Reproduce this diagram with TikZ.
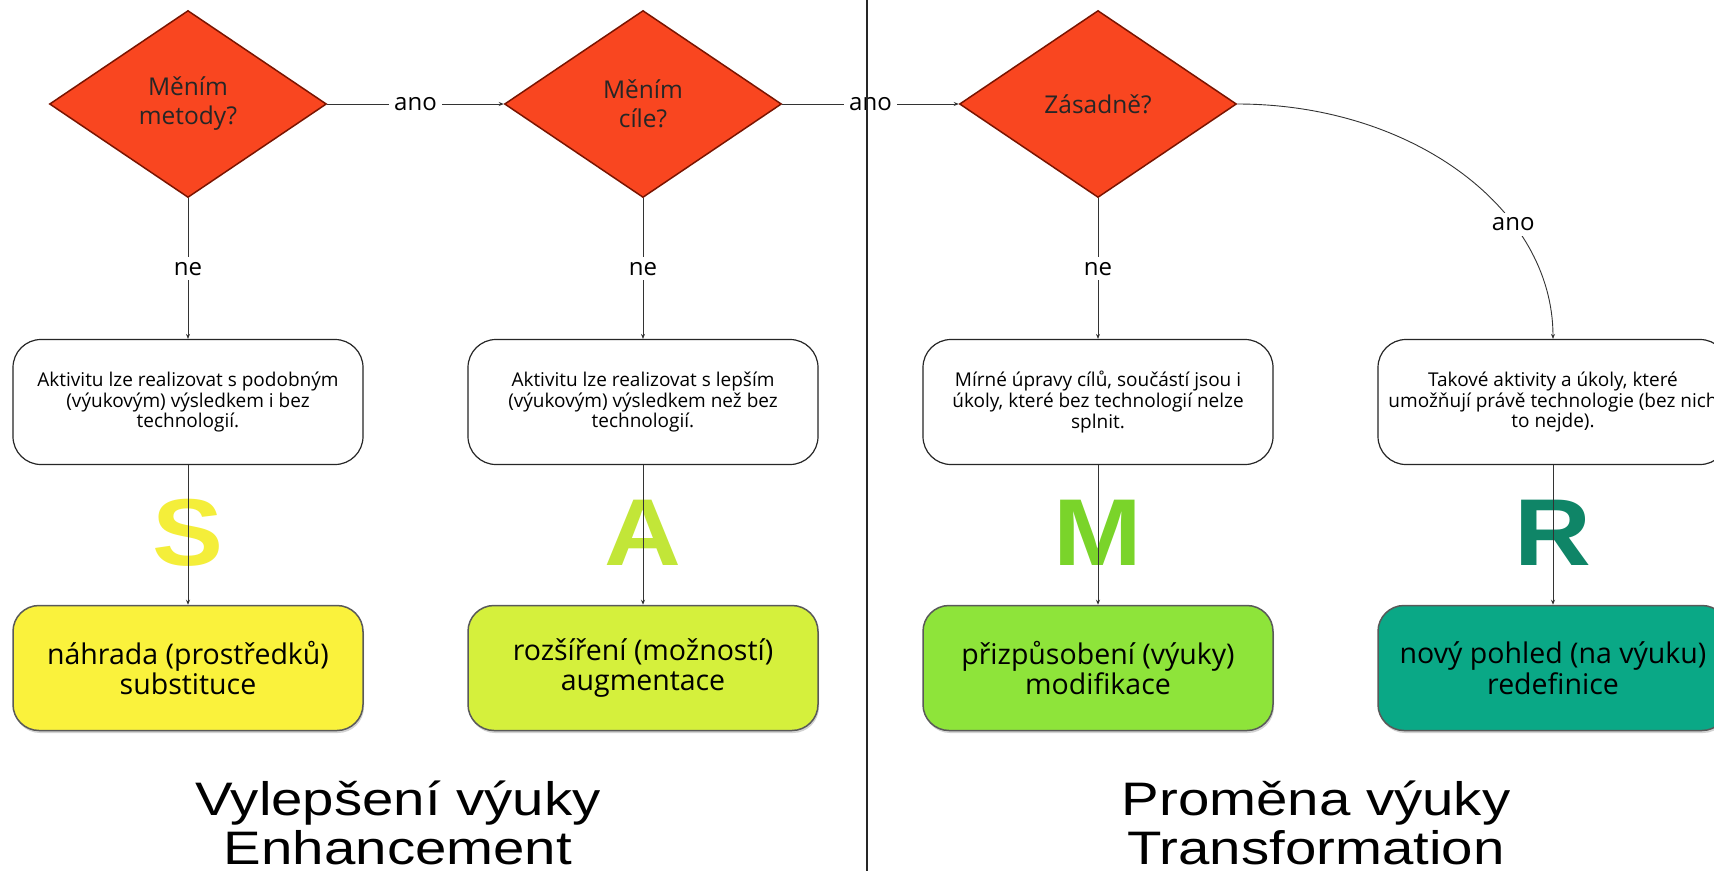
\documentclass[tikz,border=0pt]{standalone}
\usepackage{fontspec}
\setmainfont{Open Sans}
\newfontfamily\titlefont{Liberation Sans}
\usetikzlibrary{shapes.geometric,arrows.meta,shadows}
\definecolor{dred}{HTML}{F94620}
\definecolor{dredline}{HTML}{7A1400}
\definecolor{cS}{HTML}{FAF23C}
\definecolor{cA}{HTML}{D5F03C}
\definecolor{cM}{HTML}{8EE43A}
\definecolor{cR}{HTML}{0AA886}
\definecolor{lS}{HTML}{F4EE3A}
\definecolor{lA}{HTML}{C2E638}
\definecolor{lM}{HTML}{7AD42A}
\definecolor{lR}{HTML}{0F8567}
\begin{document}
\begin{tikzpicture}[x=1pt,y=-1pt,
 decision/.style={diamond, fill=dred, draw=dredline, line width=1.5pt, minimum width=277pt, minimum height=187pt, inner sep=0pt, align=center, font=\fontsize{24.5}{29}\selectfont, text=black!85},
 infobox/.style={rectangle, rounded corners=28pt, draw=black!85, line width=1.2pt, fill=white, minimum width=350pt, minimum height=125pt, align=center, font=\fontsize{19}{20.8}\selectfont},
 levelbox/.style={rectangle, rounded corners=26pt, draw=black!65, line width=1.5pt, minimum width=350pt, minimum height=125pt, align=center, font=\fontsize{28.5}{30.5}\selectfont, drop shadow={shadow xshift=1pt, shadow yshift=-2.5pt, opacity=0.35}},
 conn/.style={draw=black!80, line width=0.9pt, -{Stealth[length=5pt,width=4pt]}},
 lbl/.style={fill=white, inner sep=5pt, font=\fontsize{24}{28}\selectfont},
 bigletter/.style={inner sep=0pt, font=\titlefont\bfseries\fontsize{95}{95}\selectfont},
 bigtitle/.style={inner sep=0pt, anchor=base, font=\titlefont\fontsize{47}{47}\selectfont}
]
\clip (0,0) rectangle (1714,871);
\fill[white] (0,0) rectangle (1714,871);

% decisions
\node[decision] (D1) at (188,104) {Měním\\metody?};
\node[decision] (D2) at (643,104) {Měním\\cíle?};
\node[decision] (D3) at (1098,104) {Zásadně?};

% info boxes
\node[infobox] (W1) at (188,402) {Aktivitu lze realizovat s podobným\\(výukovým) výsledkem i bez\\technologií.};
\node[infobox] (W2) at (643,402) {Aktivitu lze realizovat s lepším\\(výukovým) výsledkem než bez\\technologií.};
\node[infobox] (W3) at (1098,402) {Mírné úpravy cílů, součástí jsou i\\úkoly, které bez technologií nelze\\splnit.};
\node[infobox] (W4) at (1553,402) {Takové aktivity a úkoly, které\\umožňují právě technologie (bez nich\\to nejde).};

% level boxes
\node[levelbox, fill=cS] (C1) at (188,668) {náhrada (prostředků)\\substituce};
\node[levelbox, fill=cA] (C2) at (643,668) {rozšíření (možností)\\augmentace};
\node[levelbox, fill=cM] (C3) at (1098,668) {přizpůsobení (výuky)\\modifikace};
\node[levelbox, fill=cR] (C4) at (1553,668) {nový pohled (na výuku)\\redefinice};

% letters
\node[bigletter, text=lS] (LS) at (188,533) {\scalebox{1.12}[1]{S}};
\node[bigletter, text=lA] (LA) at (643,533) {\scalebox{1.12}[1]{A}};
\node[bigletter, text=lM] (LM) at (1098,533) {\scalebox{1.12}[1]{M}};
\node[bigletter, text=lR] (LR) at (1553,533) {\scalebox{1.12}[1]{R}};

% connectors
\draw[conn] (D1.east) -- node[lbl]{ano} (D2.west);
\draw[conn] (D2.east) -- node[lbl]{ano} (D3.west);
\draw[conn] (D1.south) -- node[lbl]{ne} (W1.north);
\draw[conn] (D2.south) -- node[lbl]{ne} (W2.north);
\draw[conn] (D3.south) -- node[lbl]{ne} (W3.north);
\draw[conn] (D3.east) .. controls +(175,0) and +(0,-130) .. node[lbl, pos=0.68]{ano} (W4.north);
\draw[conn] (W1.south) -- (C1.north);
\draw[conn] (W2.south) -- (C2.north);
\draw[conn] (W3.south) -- (C3.north);
\draw[conn] (W4.south) -- (C4.north);

% titles
\node[bigtitle] (T1) at (398,815) {\scalebox{1.2}[1]{Vylepšení výuky}};
\node[bigtitle] (T2) at (398,864) {\scalebox{1.2}[1]{Enhancement}};
\node[bigtitle] (T3) at (1316,815) {\scalebox{1.2}[1]{Proměna výuky}};
\node[bigtitle] (T4) at (1316,864) {\scalebox{1.2}[1]{Transformation}};

% divider
\coordinate (divtop) at (867,0);
\coordinate (divbot) at (867,871);
\draw[black!85, line width=1.8pt] (divtop) -- (divbot);
\end{tikzpicture}
\end{document}
